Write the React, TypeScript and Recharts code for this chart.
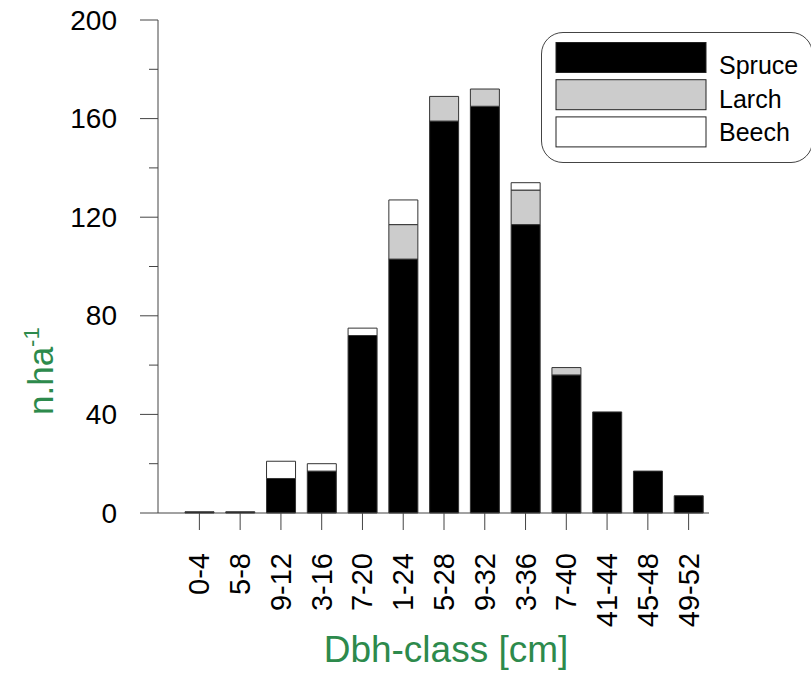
import { BarChart, Bar, XAxis, YAxis, Legend } from 'recharts'

const CLASSES = ['0-4', '5-8', '9-12', '3-16', '7-20', '1-24', '5-28', '9-32', '3-36', '7-40', '41-44', '45-48', '49-52']
const SPRUCE = [0.5, 0.5, 14, 17, 72, 103, 159, 165, 117, 56, 41, 17, 7]
const LARCH = [0, 0, 0, 0, 0, 14, 10, 7, 14, 3, 0, 0, 0]
const BEECH = [0, 0, 7, 3, 3, 10, 0, 0, 3, 0, 0, 0, 0]
const Y_TICKS = [0, 20, 40, 60, 80, 100, 120, 140, 160, 180, 200]

const SPECIES = [
  { key: 'spruce', name: 'Spruce', fill: '#000000' },
  { key: 'larch', name: 'Larch', fill: '#cccccc' },
  { key: 'beech', name: 'Beech', fill: '#ffffff' },
]

const data = CLASSES.map((c, i) => ({ cls: c, spruce: SPRUCE[i], larch: LARCH[i], beech: BEECH[i] }))

const FONT = '"Liberation Sans", Arial, sans-serif'
const GREEN = '#2d8a4c'
const AXIS = '#444'

function YTick(props: any) {
  const { x, y, payload } = props
  const major = payload.value % 40 === 0
  return (
    <g>
      <line x1={x - (major ? 18 : 9)} x2={x} y1={y} y2={y} stroke={AXIS} strokeWidth={1} />
      {major && (
        <text x={x - 41} y={y} textAnchor="end" dominantBaseline="central" fontSize={28} fill="#000" fontFamily={FONT}>
          {payload.value}
        </text>
      )}
    </g>
  )
}

function XTick(props: any) {
  const { x, y, payload } = props
  const ty = y + 23
  return (
    <text x={x} y={ty} transform={`rotate(-90, ${x}, ${ty})`} textAnchor="end" dominantBaseline="central"
      fontSize={29} fill="#000" fontFamily={FONT}>
      {payload.value}
    </text>
  )
}

function LegendBox() {
  return (
    <div style={{ width: 272, height: 131, border: `1.5px solid ${AXIS}`, borderRadius: 22, boxSizing: 'border-box', background: '#fff' }}>
      <svg width={270} height={128} style={{ display: 'block' }}>
        {SPECIES.map((s, i) => (
          <g key={s.key}>
            <rect x={14} y={9.5 + i * 37.2} width={150} height={30} fill={s.fill} stroke="#222" strokeWidth={1} />
            <text x={177} y={41 + i * 33.5} fontSize={25} fill="#000" fontFamily={FONT}>{s.name}</text>
          </g>
        ))}
      </svg>
    </div>
  )
}

export default function App() {
  return (
    <div style={{ position: 'absolute', left: 0, top: 0, width: 811, height: 673, overflow: 'hidden', fontFamily: FONT, background: '#fff' }}>
      <BarChart width={811} height={673} data={data} margin={{ top: 20, right: 102, bottom: 0, left: 0 }}>
        <XAxis dataKey="cls" height={160} padding={{ left: 21, right: 0 }} interval={0}
          axisLine={{ stroke: AXIS }} tickLine={{ stroke: AXIS }} tickSize={17} tickMargin={0} tick={<XTick />} />
        <YAxis width={158} domain={[0, 200]} ticks={Y_TICKS} interval={0} tickSize={0} tickMargin={0}
          tickLine={false} axisLine={{ stroke: AXIS }} tick={<YTick />} />
        <Legend layout="vertical" align="center" verticalAlign="middle"
          wrapperStyle={{ left: 541, top: 32, width: 272 }} content={() => <LegendBox />} />
        {SPECIES.map(s => (
          <Bar key={s.key} dataKey={s.key} name={s.name} stackId="a" fill={s.fill} stroke="#333" strokeWidth={1}
            barSize={29} isAnimationActive={false} />
        ))}
      </BarChart>
      <svg width={811} height={673} style={{ position: 'absolute', left: 0, top: 0, pointerEvents: 'none' }}>
        <text x={446} y={662} textAnchor="middle" fontSize={37} fill={GREEN} fontFamily={FONT}>Dbh-class [cm]</text>
        <text transform="translate(53,415) rotate(-90)" fontSize={35} fill={GREEN} fontFamily={FONT}>
          n.ha<tspan dy={-14} fontSize={22}>-1</tspan>
        </text>
      </svg>
    </div>
  )
}
